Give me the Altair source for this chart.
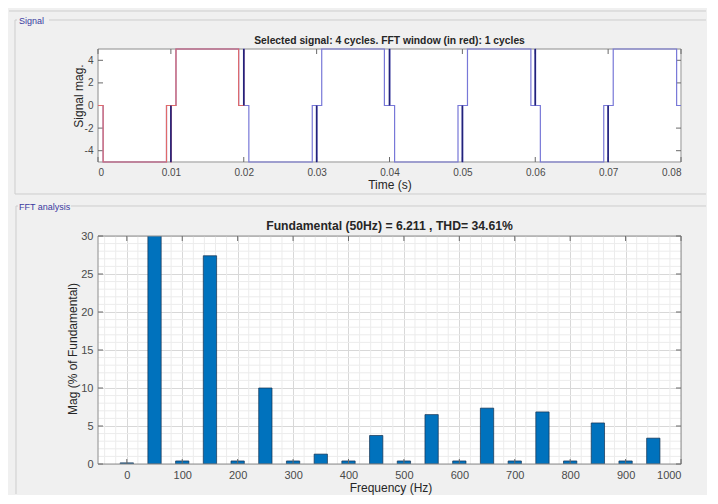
import altair as alt
import pandas as pd

FONT = "Liberation Sans"

# ---------------- data ----------------
# step waveform: each time is where the level changes, level holds until next time
sig_t = [0.0, 0.0007, 0.0094, 0.0100, 0.01004, 0.0107, 0.0193, 0.0200, 0.02004, 0.0207,
         0.0294, 0.0300, 0.03004, 0.0307, 0.0393, 0.0400, 0.04004, 0.0407,
         0.0494, 0.0500, 0.05004, 0.0507, 0.0594, 0.0600, 0.06004, 0.0607,
         0.0694, 0.0700, 0.07004, 0.0707, 0.0794, 0.0800]
sig_v = [0, -5, 0, -5, 0, 5, 0, 5, 0, -5,
         0, -5, 0, 5, 0, 5, 0, -5,
         0, -5, 0, 5, 0, 5, 0, -5,
         0, -5, 0, 5, 0, 0]
spike_t = [0.0100, 0.0200, 0.0300, 0.0400, 0.0500, 0.0600, 0.0700]
spike_v = [-5, 5, -5, 5, -5, 5, -5]
window_end = 0.02

time_ticks = [0, 0.01, 0.02, 0.03, 0.04, 0.05, 0.06, 0.07, 0.08]
sig_ticks = [-4, -2, 0, 2, 4]

fft_freq = [0, 50, 100, 150, 200, 250, 300, 350, 400, 450,
            500, 550, 600, 650, 700, 750, 800, 850, 900, 950]
fft_mag = [0.15, 100, 0.4, 27.4, 0.4, 10.0, 0.4, 1.3, 0.4, 3.75,
           0.4, 6.5, 0.4, 7.35, 0.4, 6.85, 0.4, 5.4, 0.4, 3.4]
freq_ticks = [0, 100, 200, 300, 400, 500, 600, 700, 800, 900, 1000]
mag_ticks = [0, 5, 10, 15, 20, 25, 30]
freq_minor = [v for v in range(-40, 1001, 20) if v % 100 != 0]
mag_minor = [v for v in range(1, 30) if v % 5 != 0]

top_title = "Selected signal: 4 cycles. FFT window (in red): 1 cycles"
bottom_title = "Fundamental (50Hz) = 6.211 , THD= 34.61%"

# ---------------- style ----------------
W1, H1 = 583, 113
W2, H2 = 583, 228
TL = 5
RIGHT = 608
BLUE = "#7878d8"
RED = "#e06a6a"
NAVY = "#22227a"
BAR = "#0072BD"
BOX = "#cdcdcd"
TICK = "#6a6a6a"
LBL = "#4a4a4a"
TXT = "#262626"
GROUP_TXT = "#3a3aa0"
HYPHEN = "datum.value < 0 ? '-' + abs(datum.value) : '' + datum.value"

one = pd.DataFrame({"k": [0]})


def anchor(x1, x2, y1, y2):
    return alt.Chart(one).mark_rect(opacity=0).encode(
        x=alt.value(x1), x2=alt.value(x2), y=alt.value(y1), y2=alt.value(y2))


def hline(y, x1, x2, color=BOX):
    return alt.Chart(one).mark_rule(color=color, strokeWidth=1).encode(
        x=alt.value(x1), x2=alt.value(x2), y=alt.value(y))


def vline(x, y1, y2, color=BOX):
    return alt.Chart(one).mark_rule(color=color, strokeWidth=1).encode(
        x=alt.value(x), y=alt.value(y1), y2=alt.value(y2))


def label(text, x, y, size, weight="normal", color=TXT, angle=0, align="center"):
    return alt.Chart(one).mark_text(
        text=text, fontSize=size, fontWeight=weight, color=color, angle=angle,
        align=align, baseline="middle", font=FONT
    ).encode(x=alt.value(x), y=alt.value(y))


def frame(w, h):
    return alt.Chart(one).mark_rect(filled=False, color="#8f8f8f", strokeWidth=1).encode(
        x=alt.value(0), x2=alt.value(w), y=alt.value(0), y2=alt.value(h))


# ---------------- top panel: signal ----------------
X1 = alt.Scale(domain=[0, 0.08], nice=False, zero=False)
Y1 = alt.Scale(domain=[-5, 5], nice=False, zero=False)
AX1 = alt.Axis(values=time_ticks, format="~g", title=None, ticks=False, domain=False,
               grid=False, labelFontSize=10, labelPadding=5)
AY1 = alt.Axis(values=sig_ticks, title=None, ticks=False, domain=False, grid=False,
               labelFontSize=10, labelPadding=5, labelExpr=HYPHEN)

df_sig = pd.DataFrame({"t": sig_t, "v": sig_v})
df_win = df_sig[df_sig["t"] <= window_end]
df_spk = pd.DataFrame({"t": spike_t, "v": spike_v})
df_tt = pd.DataFrame({"t": time_ticks})
df_st = pd.DataFrame({"v": sig_ticks})

tk_x_top = alt.Chart(df_tt).mark_rule(color=TICK).encode(
    x=alt.X("t:Q", scale=X1, axis=AX1), y=alt.value(0), y2=alt.value(TL))
tk_x_bot = alt.Chart(df_tt).mark_rule(color=TICK).encode(
    x=alt.X("t:Q", scale=X1, axis=AX1), y=alt.value(H1 - TL), y2=alt.value(H1))
tk_y_l = alt.Chart(df_st).mark_rule(color=TICK).encode(
    y=alt.Y("v:Q", scale=Y1, axis=AY1), x=alt.value(0), x2=alt.value(TL))
tk_y_r = alt.Chart(df_st).mark_rule(color=TICK).encode(
    y=alt.Y("v:Q", scale=Y1, axis=AY1), x=alt.value(W1 - TL), x2=alt.value(W1))

line_blue = alt.Chart(df_sig).mark_line(
    interpolate="step-after", color=BLUE, strokeWidth=1.2).encode(
    x=alt.X("t:Q", scale=X1, axis=AX1),
    y=alt.Y("v:Q", scale=Y1, axis=AY1),
)
line_red = alt.Chart(df_win).mark_line(
    interpolate="step-after", color=RED, strokeWidth=1.2).encode(
    x=alt.X("t:Q", scale=X1, axis=AX1),
    y=alt.Y("v:Q", scale=Y1, axis=AY1),
)
spikes = alt.Chart(df_spk).transform_calculate(z="0").mark_rule(
    color=NAVY, strokeWidth=1.6).encode(
    x=alt.X("t:Q", scale=X1, axis=AX1),
    y=alt.Y("v:Q", scale=Y1, axis=AY1),
    y2=alt.Y2("z:Q"),
)

top = alt.layer(
    anchor(-89, RIGHT, -40, 149),
    hline(-38, -89, RIGHT),
    hline(-29, -49, RIGHT),
    hline(-29, -83, -81),
    vline(-83, -29, 145),
    hline(145, -83, RIGHT),
    label("Signal", -79, -28, 9, color=GROUP_TXT, align="left"),
    frame(W1, H1),
    tk_x_top, tk_x_bot, tk_y_l, tk_y_r,
    line_blue, line_red, spikes,
    label(top_title, W1 / 2, -8, 10.3, weight="bold"),
    label("Signal mag.", -19.5, 47, 12, angle=270),
    label("Time (s)", 292, 136, 12),
).properties(width=W1, height=H1)

# ---------------- bottom panel: FFT ----------------
X2 = alt.Scale(domain=[-52, 1000], nice=False, zero=False)
Y2 = alt.Scale(domain=[0, 30], nice=False, zero=False)
AX2 = alt.Axis(values=freq_ticks, format="d", title=None, ticks=False, domain=False,
               grid=True, gridColor="#d8d8d8", labelFontSize=11, labelPadding=5)
AY2 = alt.Axis(values=mag_ticks, format="d", title=None, ticks=False, domain=False,
               grid=True, gridColor="#d8d8d8", labelFontSize=11, labelPadding=5)

df_fft = pd.DataFrame({"f": fft_freq, "m": fft_mag})
df_fmin = pd.DataFrame({"f": freq_minor})
df_mmin = pd.DataFrame({"m": mag_minor})
df_ft = pd.DataFrame({"f": freq_ticks})
df_mt = pd.DataFrame({"m": mag_ticks})

minor_x = alt.Chart(df_fmin).mark_rule(color="#ececec", strokeWidth=1).encode(
    x=alt.X("f:Q", scale=X2, axis=AX2), y=alt.value(0), y2=alt.value(H2))
minor_y = alt.Chart(df_mmin).mark_rule(color="#ececec", strokeWidth=1).encode(
    y=alt.Y("m:Q", scale=Y2, axis=AY2), x=alt.value(0), x2=alt.value(W2))

bars = alt.Chart(df_fft).transform_calculate(
    f0="datum.f - 12", f1="datum.f + 12", b0="0").mark_bar(
    clip=True, color=BAR, stroke="#15304f", strokeWidth=0.7).encode(
    x=alt.X("f0:Q", scale=X2, axis=AX2),
    x2=alt.X2("f1:Q"),
    y=alt.Y("m:Q", scale=Y2, stack=None, axis=AY2),
    y2=alt.Y2("b0:Q"),
)

tk2_x_top = alt.Chart(df_ft).mark_rule(color=TICK).encode(
    x=alt.X("f:Q", scale=X2, axis=AX2), y=alt.value(0), y2=alt.value(TL))
tk2_x_bot = alt.Chart(df_ft).mark_rule(color=TICK).encode(
    x=alt.X("f:Q", scale=X2, axis=AX2), y=alt.value(H2 - TL), y2=alt.value(H2))
tk2_y_l = alt.Chart(df_mt).mark_rule(color=TICK).encode(
    y=alt.Y("m:Q", scale=Y2, axis=AY2), x=alt.value(0), x2=alt.value(TL))
tk2_y_r = alt.Chart(df_mt).mark_rule(color=TICK).encode(
    y=alt.Y("m:Q", scale=Y2, axis=AY2), x=alt.value(W2 - TL), x2=alt.value(W2))

bottom = alt.layer(
    anchor(-89, RIGHT, -36, 258),
    hline(-30, -27, RIGHT),
    hline(-30, -82, -80),
    vline(-82, -30, 258),
    label("FFT analysis", -79, -29.5, 9, color=GROUP_TXT, align="left"),
    minor_x, minor_y,
    bars,
    frame(W2, H2),
    tk2_x_top, tk2_x_bot, tk2_y_l, tk2_y_r,
    label(bottom_title, W2 / 2, -10, 12.2, weight="bold"),
    label("Mag (% of Fundamental)", -25.5, 113, 12, angle=270),
    label("Frequency (Hz)", 293, 251.5, 12),
).properties(width=W2, height=H2)

chart = alt.vconcat(top, bottom, spacing=0).properties(
    padding=0,
    background="#f0f0f0",
).configure_view(
    fill="white", stroke="transparent"
).configure_axis(
    labelFont=FONT, labelColor=LBL, titleFont=FONT
)

chart.save("out.html", embed_options={"renderer": "svg", "actions": False})
